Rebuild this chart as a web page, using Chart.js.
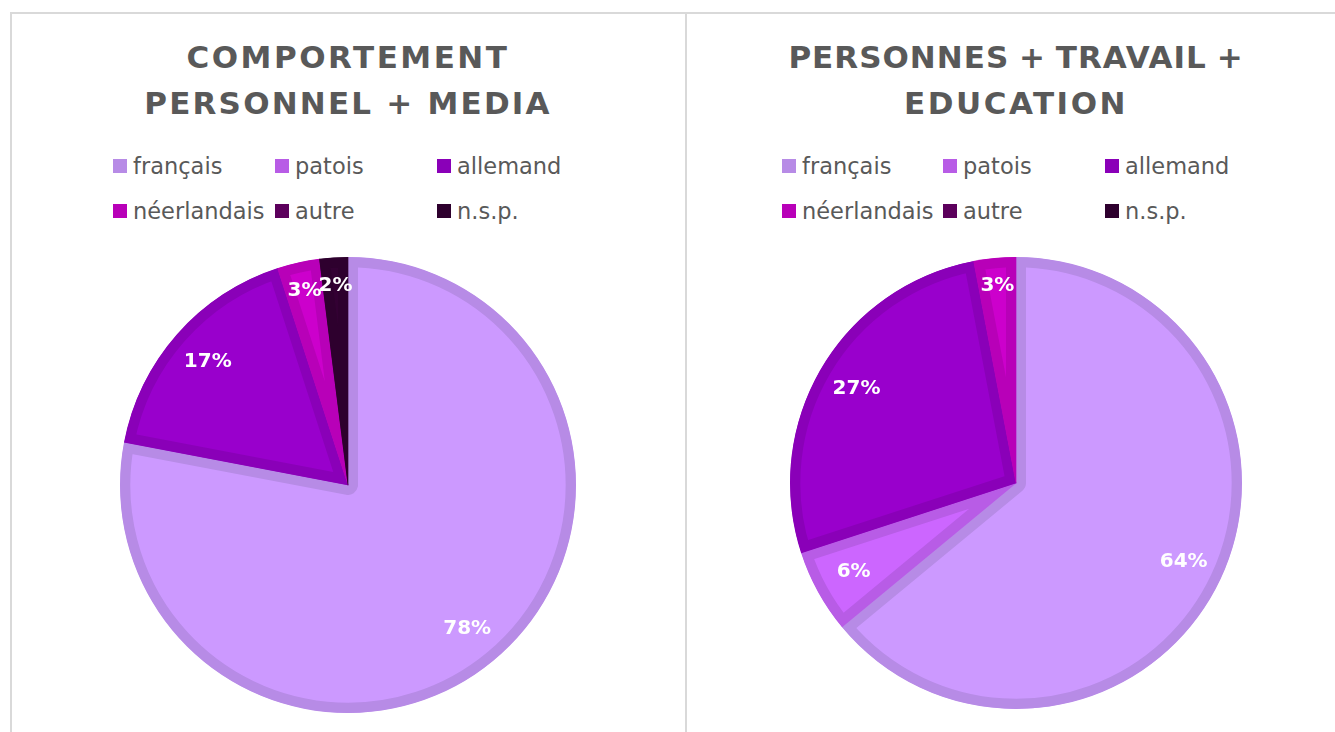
<!DOCTYPE html>
<html>
<head>
<meta charset="utf-8">
<script src="https://cdn.jsdelivr.net/npm/chart.js@4"></script>
<style>
  html, body { margin: 0; padding: 0; background: #fff; }
  body { width: 1335px; height: 732px; position: relative; overflow: hidden; font-family: "DejaVu Sans", sans-serif; }
  .panel { position: absolute; border-top: 2px solid #d9d9d9; border-left: 2px solid #d9d9d9; box-sizing: border-box; }
  .title { position: absolute; text-align: center; color: #595959; font-weight: bold; font-size: 31px; letter-spacing: 2.5px; line-height: 46px; white-space: nowrap; }
  .leg { position: absolute; color: #595959; font-size: 22.5px; line-height: 26px; white-space: nowrap; }
  .leg .sw { position: absolute; left: 0; top: 6px; width: 14px; height: 14px; }
  .leg .tx { position: absolute; left: 20px; top: 0; }
  canvas { position: absolute; }
</style>
</head>
<body>
<div class="panel" style="left:10px; top:12px; width:677px; height:740px;"></div>
<div class="panel" style="left:685px; top:12px; width:660px; height:740px;"></div>

<div class="title" id="t1" style="left:48px; width:600px; top:34px;">COMPORTEMENT<br><span style="letter-spacing:2.2px">PERSONNEL + MEDIA</span></div>
<div class="title" id="t2" style="left:716px; width:600px; top:34px;"><span style="letter-spacing:1px; word-spacing:-2px">PERSONNES + TRAVAIL +</span><br>EDUCATION</div>

<div id="leg1"></div>
<div id="leg2"></div>

<canvas id="c1" width="470" height="470" style="left:113px; top:250px; width:470px; height:470px;"></canvas>
<canvas id="c2" width="470" height="470" style="left:781px; top:248px; width:470px; height:470px;"></canvas>

<script>
// ---- data ----
const categories = ["français", "patois", "allemand", "néerlandais", "autre", "n.s.p."];
const comportementValues = [78, 0, 17, 3, 0, 2];
const travailValues = [64, 6, 27, 3, 0, 0];
const chartTitles = ["COMPORTEMENT PERSONNEL + MEDIA", "PERSONNES + TRAVAIL + EDUCATION"];

// ---- styles ----
const fillColors = ["#cc99ff", "#cc66ff", "#9900cc", "#cc00cc", "#660066", "#330033"];
const borderColors = ["#b78be6", "#b85ce6", "#8a00b8", "#b800b8", "#5c005c", "#2e002e"];

const labelPlugin = {
  id: 'pctLabels',
  afterDatasetsDraw(chart) {
    const ctx = chart.ctx;
    const meta = chart.getDatasetMeta(0);
    const data = chart.data.datasets[0].data;
    const total = data.reduce((a, b) => a + b, 0);
    ctx.save();
    ctx.fillStyle = '#ffffff';
    ctx.font = 'bold 20px "DejaVu Sans", sans-serif';
    ctx.textAlign = 'center';
    ctx.textBaseline = 'middle';
    meta.data.forEach((arc, i) => {
      const v = data[i];
      if (!v) return;
      const p = arc.getProps(['x', 'y', 'startAngle', 'endAngle', 'outerRadius'], true);
      const mid = (p.startAngle + p.endAngle) / 2;
      const f = v / total < 0.05 ? 0.875 : 0.82;
      const x = p.x + Math.cos(mid) * p.outerRadius * f;
      const y = p.y + Math.sin(mid) * p.outerRadius * f;
      ctx.fillText(v + '%', x, y);
    });
    ctx.restore();
  }
};

function makePie(id, values, pad) {
  return new Chart(document.getElementById(id), {
    type: 'pie',
    data: {
      labels: categories,
      datasets: [{
        data: values,
        backgroundColor: fillColors,
        borderColor: borderColors,
        borderWidth: 10,
        borderAlign: 'inner',
        hoverOffset: 0
      }]
    },
    options: {
      responsive: false,
      animation: false,
      layout: { padding: pad },
      plugins: { legend: { display: false }, tooltip: { enabled: false }, title: { display: false } }
    },
    plugins: [labelPlugin]
  });
}

function makeLegend(id, cols, rows) {
  const host = document.getElementById(id);
  categories.forEach((c, i) => {
    const d = document.createElement('div');
    d.className = 'leg';
    d.style.left = cols[i % 3] + 'px';
    d.style.top = rows[Math.floor(i / 3)] + 'px';
    d.innerHTML = '<span class="sw" style="background:' + borderColors[i] + '"></span><span class="tx">' + c + '</span>';
    host.appendChild(d);
  });
}

makeLegend('leg1', [113, 275, 437], [153, 198]);
makeLegend('leg2', [782, 943, 1105], [153, 198]);

makePie('c1', comportementValues, 7);
makePie('c2', travailValues, 9);
</script>
</body>
</html>
